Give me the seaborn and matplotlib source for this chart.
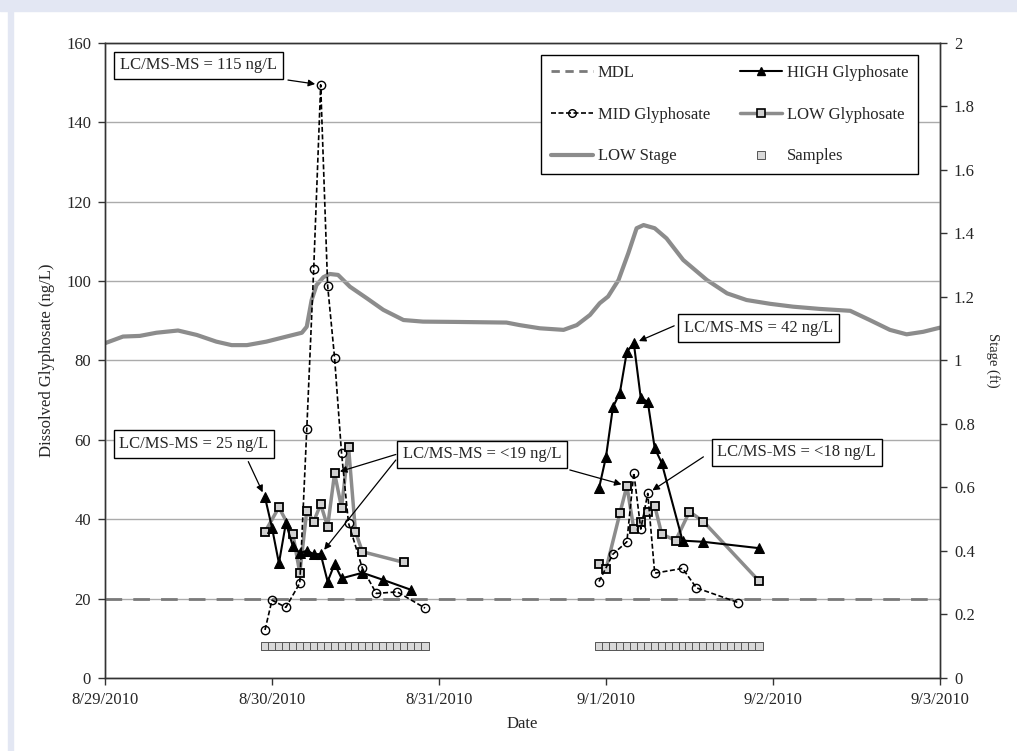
import pandas as pd
import matplotlib
matplotlib.use('Agg')
import matplotlib.pyplot as plt
import matplotlib.dates as mdates
from matplotlib.lines import Line2D
from matplotlib.patches import Rectangle
import seaborn as sns

# all times are hours counted from 8/29/2010 00:00
start = pd.Timestamp('2010-08-29')

# HIGH site, two sampling events
high_hours_1 = [23, 24, 25, 26, 27, 28, 29, 30, 31, 32, 33, 34, 37, 40, 44]
high_1 = [45.5, 37.9, 28.9, 39.0, 33.2, 31.4, 32.1, 31.2, 31.2, 24.3, 28.7, 25.1, 26.5, 24.7, 22.2]
high_hours_2 = [71, 72, 73, 74, 75, 76, 77, 78, 79, 80, 83, 86, 94]
high_2 = [47.8, 55.7, 68.2, 71.9, 82.2, 84.3, 70.5, 69.6, 57.9, 54.2, 34.6, 34.3, 32.7]

# MID site
mid_hours_1 = [23, 24, 26, 28, 29, 30, 31, 32, 33, 34, 35, 37, 39, 42, 46]
mid_1 = [12.1, 19.6, 17.8, 23.9, 62.6, 103.1, 149.4, 98.8, 80.6, 56.6, 39.0, 27.6, 21.3, 21.7, 17.6]
mid_hours_2 = [71, 73, 75, 76, 77, 78, 79, 83, 85, 91]
mid_2 = [24.3, 31.2, 34.3, 51.7, 37.5, 46.5, 26.4, 27.6, 22.7, 19.0]

# LOW site
low_hours_1 = [23, 25, 27, 28, 29, 30, 31, 32, 33, 34, 35, 36, 37, 43]
low_1 = [36.8, 43.0, 36.3, 26.4, 42.1, 39.4, 43.8, 38.1, 51.6, 42.9, 58.3, 36.8, 31.8, 29.1]
low_hours_2 = [71, 72, 74, 75, 76, 77, 78, 79, 80, 82, 84, 86, 94]
low_2 = [28.6, 27.4, 41.5, 48.4, 37.5, 39.4, 41.9, 43.4, 36.3, 34.6, 41.9, 39.4, 24.4]

# LOW stage (ft)
stage_hours = [0, 2.6, 5.0, 7.4, 10.5, 13.2, 16.0, 18.2, 20.4, 23.2,
               26.1, 28.3, 29.0, 29.7, 30.4, 31.4, 32.3, 33.5, 35.2, 37.6,
               40.0, 42.9, 45.7, 50.5, 57.7, 59.6, 62.5, 65.9, 67.8, 69.7,
               71.1, 72.3, 73.8, 75.2, 76.4, 77.4, 79.0, 80.7, 83.1, 86.5,
               89.4, 92.2, 95.6, 98.9, 102.7, 107.1, 109.9, 112.8, 115.2, 117.6, 120.0]
stage_ft = [1.054, 1.075, 1.077, 1.087, 1.094, 1.080, 1.059, 1.048, 1.048, 1.059,
            1.075, 1.087, 1.106, 1.190, 1.237, 1.262, 1.272, 1.269, 1.232, 1.196,
            1.159, 1.127, 1.122, 1.121, 1.119, 1.111, 1.101, 1.096, 1.111, 1.143,
            1.180, 1.201, 1.253, 1.337, 1.416, 1.426, 1.416, 1.384, 1.316, 1.253,
            1.211, 1.190, 1.178, 1.169, 1.162, 1.156, 1.127, 1.096, 1.082, 1.090, 1.103]

# autosampler times (hourly)
sample_hours = [23, 24, 25, 26, 27, 28, 29, 30, 31, 32, 33, 34, 35, 36, 37, 38, 39, 40,
                41, 42, 43, 44, 45, 46,
                71, 72, 73, 74, 75, 76, 77, 78, 79, 80, 81, 82, 83, 84, 85, 86, 87, 88,
                89, 90, 91, 92, 93, 94]
sample_level = 8

mdl = 20

x_tick_hours = [0, 24, 48, 72, 96, 120]
x_tick_labels = ['8/29/2010', '8/30/2010', '8/31/2010', '9/1/2010', '9/2/2010', '9/3/2010']


def to_time(hours):
    return start + pd.to_timedelta(hours, unit='h')


def tnum(hours):
    return mdates.date2num(start + pd.Timedelta(hours=hours))


sns.set_theme(style='ticks')
plt.rcParams['font.family'] = ['Liberation Serif', 'DejaVu Serif']
plt.rcParams['font.size'] = 12
plt.rcParams['axes.edgecolor'] = '#333333'
plt.rcParams['axes.linewidth'] = 1.0

fig = plt.figure(figsize=(10.17, 7.51), dpi=100)
fig.patches.append(Rectangle((0, 0.986), 1, 0.014, transform=fig.transFigure,
                             color='#e3e7f3', zorder=0))
fig.patches.append(Rectangle((0.008, 0), 0.005, 1, transform=fig.transFigure,
                             color='#e3e7f3', zorder=0))

ax = fig.add_axes([0.1032, 0.0972, 0.8211, 0.8459])
ax2 = ax.twinx()
ax.set_zorder(ax2.get_zorder() + 1)
ax.patch.set_visible(False)

stage_gray = '#8c8c8c'

# stage on the right axis
sns.lineplot(x=to_time(stage_hours), y=stage_ft, ax=ax2, color=stage_gray, lw=3,
             estimator=None, sort=False)

# MDL
ax.axhline(mdl, color='#7a7a7a', lw=2, dashes=(6, 4), zorder=2)

for hrs, vals in [(low_hours_1, low_1), (low_hours_2, low_2)]:
    sns.lineplot(x=to_time(hrs), y=vals, ax=ax, color=stage_gray, lw=2.5,
                 marker='s', markersize=5.5, mfc='#d0d0d0', mec='black', mew=1.3,
                 estimator=None, sort=False, zorder=3)

for hrs, vals in [(mid_hours_1, mid_1), (mid_hours_2, mid_2)]:
    sns.lineplot(x=to_time(hrs), y=vals, ax=ax, color='black', lw=1.2,
                 linestyle=(0, (3, 1.5)), marker='o', markersize=6, mfc='none',
                 mec='black', mew=1.0, estimator=None, sort=False, zorder=4)

for hrs, vals in [(high_hours_1, high_1), (high_hours_2, high_2)]:
    sns.lineplot(x=to_time(hrs), y=vals, ax=ax, color='black', lw=1.5,
                 marker='^', markersize=6.5, mfc='black', mec='black',
                 estimator=None, sort=False, zorder=5)

sns.scatterplot(x=to_time(sample_hours), y=[sample_level] * len(sample_hours), ax=ax,
                marker='s', s=30, color='#d9d9d9', edgecolor='#555555', linewidth=0.7,
                zorder=3)

# axes
ax.set_xlim(to_time(0), to_time(120))
ax.set_ylim(0, 160)
ax2.set_ylim(0, 2)
ax.set_yticks(range(0, 161, 20))
ax2.set_yticks([0, 0.2, 0.4, 0.6, 0.8, 1.0, 1.2, 1.4, 1.6, 1.8, 2.0])
ax2.set_yticklabels(['0', '0.2', '0.4', '0.6', '0.8', '1', '1.2', '1.4', '1.6', '1.8', '2'])
ax.set_xticks(to_time(x_tick_hours))
ax.set_xticklabels(x_tick_labels)
ax.yaxis.grid(True, color='#ababab', lw=1)
ax.xaxis.grid(False)
ax2.grid(False)

ax.tick_params(axis='both', direction='out', length=5, width=1, color='#333333',
               labelsize=12, pad=5)
ax2.tick_params(axis='y', direction='out', length=5, width=1, color='#333333',
                labelsize=12, pad=5)
for sp in ax.spines.values():
    sp.set_visible(True)
    sp.set_color('#333333')

ax.set_xlabel('Date', fontsize=12, labelpad=6)
ax.set_ylabel('Dissolved Glyphosate (ng/L)', fontsize=12, labelpad=8)
ax2.set_ylabel('Stage (ft)', fontsize=10.5, rotation=270, va='bottom', labelpad=8)

# annotations
box = dict(boxstyle='square,pad=0.35', fc='white', ec='black', lw=1)
arrow = dict(arrowstyle='-|>', color='black', lw=0.9, mutation_scale=10,
             shrinkA=0, shrinkB=4)

ax.text(tnum(13.4), 154.3, 'LC/MS-MS = 115 ng/L', ha='center', va='center', bbox=box, zorder=6)
ax.annotate('', xy=(tnum(mid_hours_1[6]), mid_1[6]), xytext=(tnum(26.3), 150.6),
            arrowprops=arrow, zorder=6)

ax.text(tnum(12.8), 58.9, 'LC/MS-MS = 25 ng/L', ha='center', va='center', bbox=box, zorder=6)
ax.annotate('', xy=(tnum(high_hours_1[0]), high_1[0]), xytext=(tnum(20.6), 54.5),
            arrowprops=arrow, zorder=6)

ax.text(tnum(54.2), 56.3, 'LC/MS-MS = <19 ng/L', ha='center', va='center', bbox=box, zorder=6)
ax.annotate('', xy=(tnum(low_hours_1[8]), low_1[8]), xytext=(tnum(41.8), 56.3),
            arrowprops=arrow, zorder=6)
ax.annotate('', xy=(tnum(high_hours_1[8]), high_1[8]), xytext=(tnum(41.8), 54.9),
            arrowprops=arrow, zorder=6)
ax.annotate('', xy=(tnum(low_hours_2[3]), low_2[3]), xytext=(tnum(66.8), 52.4),
            arrowprops=arrow, zorder=6)

ax.text(tnum(93.9), 88.2, 'LC/MS-MS = 42 ng/L', ha='center', va='center', bbox=box, zorder=6)
ax.annotate('', xy=(tnum(high_hours_2[5]), high_2[5]), xytext=(tnum(81.8), 88.7),
            arrowprops=arrow, zorder=6)

ax.text(tnum(99.4), 56.8, 'LC/MS-MS = <18 ng/L', ha='center', va='center', bbox=box, zorder=6)
ax.annotate('', xy=(tnum(mid_hours_2[5]), mid_2[5]), xytext=(tnum(86.0), 55.7),
            arrowprops=arrow, zorder=6)

# legend
handles = [
    Line2D([], [], color='#7a7a7a', lw=2, dashes=(3, 2)),
    Line2D([], [], color='black', lw=1.2, linestyle=(0, (3, 1.5)), marker='o',
           markersize=5.5, mfc='none', mec='black'),
    Line2D([], [], color=stage_gray, lw=3),
    Line2D([], [], color='black', lw=1.5, marker='^', markersize=6, mfc='black'),
    Line2D([], [], color=stage_gray, lw=2.5, marker='s', markersize=5.5, mfc='#d0d0d0',
           mec='black', mew=1.2),
    Line2D([], [], ls='none', marker='s', markersize=6, mfc='#d9d9d9', mec='#555555',
           mew=0.7),
]
labels = ['MDL', 'MID Glyphosate', 'LOW Stage', 'HIGH Glyphosate', 'LOW Glyphosate', 'Samples']
leg = ax.legend(handles, labels, ncol=2, loc='upper right', bbox_to_anchor=(0.974, 0.981),
                borderaxespad=0, fontsize=12, frameon=True, fancybox=False, framealpha=1,
                edgecolor='black', handlelength=2.5, handletextpad=0.3,
                columnspacing=1.8, labelspacing=1.55, borderpad=0.6)
leg.get_frame().set_linewidth(1)
leg.set_zorder(7)

fig.savefig('out.png', dpi=100)
